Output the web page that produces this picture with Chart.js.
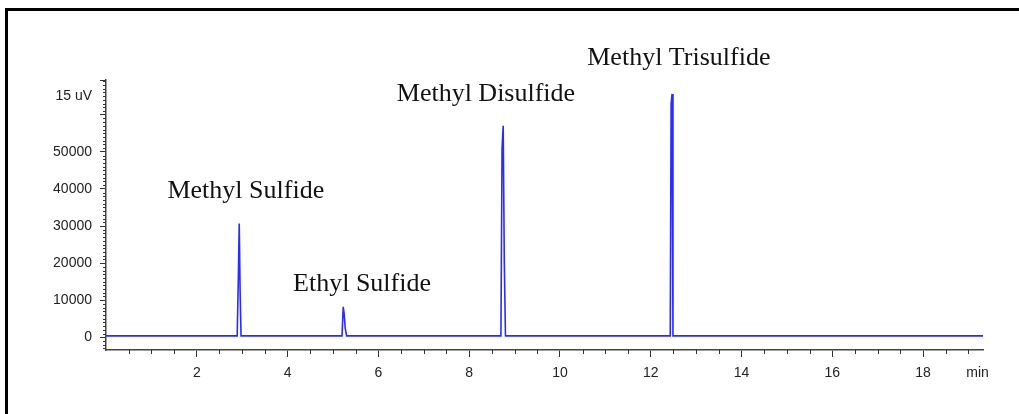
<!DOCTYPE html>
<html>
<head>
<meta charset="utf-8">
<script src="https://cdn.jsdelivr.net/npm/chart.js@4.4.1/dist/chart.umd.min.js"></script>
<style>
  html, body { margin: 0; padding: 0; background: #fff; overflow: hidden; }
  #wrap { position: relative; width: 1019px; height: 414px; }
  #frame { position: absolute; left: 5px; top: 8px; width: 2000px; height: 1000px;
           border: 3px solid #000; pointer-events: none; }
</style>
</head>
<body>
<div id="wrap">
  <canvas id="gcChart" width="1019" height="414"></canvas>
  <div id="frame"></div>
</div>
<script>
// Chromatogram trace (retention time in min, detector response)
const retentionTimes = [0, 2.89, 2.915, 2.935, 2.955, 2.975,
                        5.20, 5.225, 5.245, 5.27, 5.30,
                        8.70, 8.725, 8.75, 8.775, 8.80,
                        12.43, 12.45, 12.47, 12.49, 19.32];
const signal = [400, 400, 15700, 30700, 12000, 400,
                400, 8200, 6500, 2500, 400,
                400, 51000, 57000, 19800, 400,
                400, 63000, 65600, 400, 400];

// Peak labels and where they sit (time, response)
const peakNames = ['Methyl Sulfide', 'Ethyl Sulfide', 'Methyl Disulfide', 'Methyl Trisulfide'];
const labelTimes = [3.08, 5.64, 8.37, 12.62];
const labelValues = [39500, 14400, 65600, 75300];

// Axis ticks
const xMajorTicks = [2, 4, 6, 8, 10, 12, 14, 16, 18];
const yMajorTicks = [0, 10000, 20000, 30000, 40000, 50000, 60000];
const yTopLabel = '15 uV';
const xUnitLabel = 'min';

const X_MAX = 19.32, Y_MIN = -3420, Y_MAX = 69350;

const points = retentionTimes.map((t, i) => ({ x: t, y: signal[i] }));

// minor ticks + peak labels
const extras = {
  id: 'extras',
  afterDraw(chart) {
    const c = chart.ctx, xs = chart.scales.x, ys = chart.scales.y;
    const area = chart.chartArea;
    c.save();
    c.strokeStyle = '#333';
    c.lineWidth = 1;
    for (let v = 0.5; v < X_MAX; v += 0.5) {
      if (xMajorTicks.includes(v)) continue;
      const px = Math.round(xs.getPixelForValue(v)) + 0.5;
      c.beginPath(); c.moveTo(px, area.bottom); c.lineTo(px, area.bottom + 4); c.stroke();
    }
    for (let v = -3000; v < Y_MAX; v += 1000) {
      if (v % 10000 === 0) continue;
      const py = Math.round(ys.getPixelForValue(v)) + 0.5;
      c.beginPath(); c.moveTo(area.left - 3, py); c.lineTo(area.left, py); c.stroke();
    }
    c.fillStyle = '#111';
    c.font = '26px "Liberation Serif", "Times New Roman", serif';
    c.textAlign = 'center';
    c.textBaseline = 'middle';
    peakNames.forEach((name, i) => {
      c.fillText(name, xs.getPixelForValue(labelTimes[i]), ys.getPixelForValue(labelValues[i]));
    });
    c.restore();
  }
};

const tickFont = { family: '"Liberation Sans", Arial, sans-serif', size: 14 };

new Chart(document.getElementById('gcChart').getContext('2d'), {
  type: 'line',
  data: {
    datasets: [{
      data: points,
      borderColor: '#2b2bff',
      borderWidth: 1.6,
      pointRadius: 0,
      tension: 0,
      fill: false
    }]
  },
  options: {
    responsive: false,
    animation: false,
    layout: { padding: { left: 0, top: 80, right: 36, bottom: 0 } },
    plugins: { legend: { display: false }, tooltip: { enabled: false } },
    scales: {
      x: {
        type: 'linear',
        min: 0,
        max: X_MAX,
        afterBuildTicks(s) {
          s.ticks = xMajorTicks.map(v => ({ value: v })).concat([{ value: 19.2 }]);
        },
        afterFit(s) { s.height = 64; },
        ticks: {
          autoSkip: false,
          maxRotation: 0,
          color: '#222',
          font: tickFont,
          padding: 8,
          callback: v => (v === 19.2 ? xUnitLabel : String(v))
        },
        grid: {
          drawOnChartArea: false,
          tickLength: 7,
          tickColor: ctx => (ctx.tick && ctx.tick.value === 19.2 ? 'rgba(0,0,0,0)' : '#333')
        },
        border: { color: '#444', width: 1.5 }
      },
      y: {
        min: Y_MIN,
        max: Y_MAX,
        afterBuildTicks(s) {
          s.ticks = yMajorTicks.map(v => ({ value: v })).concat([{ value: 65000 }, { value: Y_MAX }]);
        },
        afterFit(s) { s.width = 106; },
        ticks: {
          autoSkip: false,
          color: '#222',
          font: tickFont,
          padding: 8,
          callback: v => {
            if (v === 65000) return yTopLabel;
            if (v === 60000 || v === Y_MAX) return '';
            return String(v);
          }
        },
        grid: {
          drawOnChartArea: false,
          tickLength: 6,
          tickColor: ctx => (ctx.tick && ctx.tick.value === 65000 ? 'rgba(0,0,0,0)' : '#333')
        },
        border: { color: '#444', width: 1.5 }
      }
    }
  },
  plugins: [extras]
});
</script>
</body>
</html>
